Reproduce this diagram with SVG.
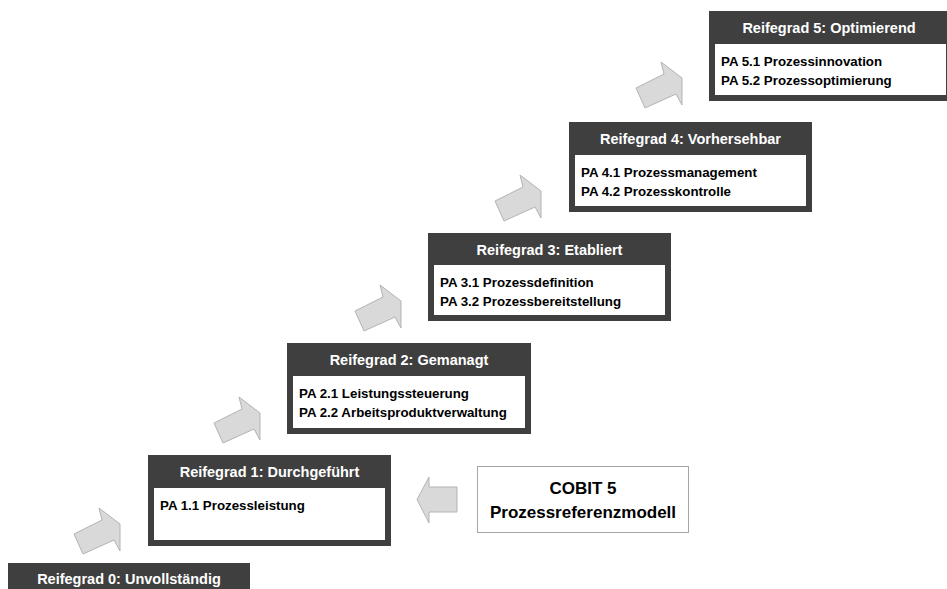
<svg xmlns="http://www.w3.org/2000/svg" width="947" height="589" viewBox="0 0 947 589">
<style>
.frame{fill:#3f3f3f}
.inner{fill:#ffffff}
.title{font-family:"Liberation Sans",Arial,sans-serif;font-weight:bold;font-size:14.5px;fill:#ffffff;text-anchor:middle}
.body{font-family:"Liberation Sans",Arial,sans-serif;font-weight:bold;font-size:13.3px;fill:#000000}
.arrow{fill:#d9d9d9;stroke:#b3b3b3;stroke-width:1;stroke-linejoin:round}
.cobit{fill:#ffffff;stroke:#a6a6a6;stroke-width:1}
.ctext{font-family:"Liberation Sans",Arial,sans-serif;font-weight:bold;font-size:17px;fill:#000000;text-anchor:middle}
</style>
<defs>
<polygon id="upArrow" points="-21,-43 0,-27 0,0 -6,-11 -37,3 -46,-17 -18,-31"/>
</defs>
<rect width="947" height="589" fill="#ffffff"/>

<g id="connectors">
<use href="#upArrow" class="arrow" transform="translate(120,551)"/>
<use href="#upArrow" class="arrow" transform="translate(260,440)"/>
<use href="#upArrow" class="arrow" transform="translate(401,328)"/>
<use href="#upArrow" class="arrow" transform="translate(541,218)"/>
<use href="#upArrow" class="arrow" transform="translate(682,105)"/>
<polygon class="arrow" points="417,499.5 429,477 429,487 457,487 457,512 429,512 429,523"/>
</g>

<g id="reifegrad0">
<rect class="frame" x="8" y="563" width="242" height="30"/>
<text class="title" x="129" y="584">Reifegrad 0: Unvollständig</text>
</g>

<g id="reifegrad1">
<rect class="frame" x="148" y="455" width="243" height="91"/>
<rect class="inner" x="154" y="488" width="231" height="52"/>
<text class="title" x="269.5" y="477">Reifegrad 1: Durchgeführt</text>
<text class="body" x="160" y="510">PA 1.1 Prozessleistung</text>
</g>

<g id="reifegrad2">
<rect class="frame" x="287" y="343" width="244" height="91"/>
<rect class="inner" x="293" y="376" width="232" height="52"/>
<text class="title" x="409" y="365">Reifegrad 2: Gemanagt</text>
<text class="body" x="299" y="398">PA 2.1 Leistungssteuerung</text>
<text class="body" x="299" y="417">PA 2.2 Arbeitsproduktverwaltung</text>
</g>

<g id="reifegrad3">
<rect class="frame" x="428" y="233" width="243" height="88"/>
<rect class="inner" x="434" y="265" width="231" height="50"/>
<text class="title" x="549.5" y="255">Reifegrad 3: Etabliert</text>
<text class="body" x="440" y="287">PA 3.1 Prozessdefinition</text>
<text class="body" x="440" y="306">PA 3.2 Prozessbereitstellung</text>
</g>

<g id="reifegrad4">
<rect class="frame" x="569" y="122" width="243" height="90"/>
<rect class="inner" x="575" y="155" width="231" height="51"/>
<text class="title" x="690.5" y="144">Reifegrad 4: Vorhersehbar</text>
<text class="body" x="581" y="177">PA 4.1 Prozessmanagement</text>
<text class="body" x="581" y="196">PA 4.2 Prozesskontrolle</text>
</g>

<g id="reifegrad5">
<rect class="frame" x="709" y="11" width="243" height="90"/>
<rect class="inner" x="715" y="44" width="231" height="51"/>
<text class="title" x="829" y="33">Reifegrad 5: Optimierend</text>
<text class="body" x="721" y="66">PA 5.1 Prozessinnovation</text>
<text class="body" x="721" y="85">PA 5.2 Prozessoptimierung</text>
</g>

<g id="cobit5">
<rect class="cobit" x="477.5" y="466.5" width="211" height="66"/>
<text class="ctext" x="583" y="494">COBIT 5</text>
<text class="ctext" x="583" y="518">Prozessreferenzmodell</text>
</g>
</svg>
